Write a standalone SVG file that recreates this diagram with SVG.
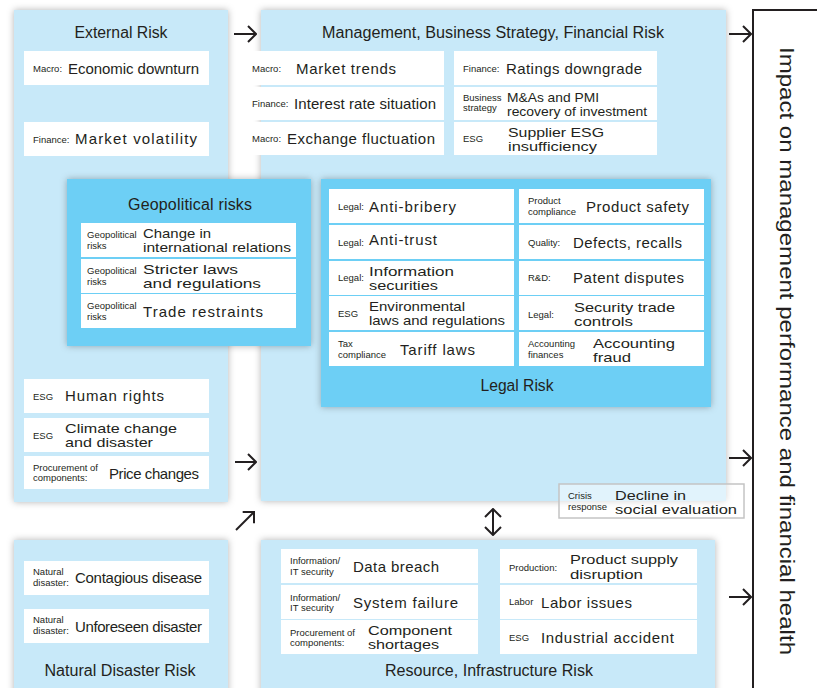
<svg xmlns="http://www.w3.org/2000/svg" width="817" height="688" viewBox="0 0 817 688">
<defs>
<filter id="sh" x="-10%" y="-10%" width="120%" height="120%">
<feDropShadow dx="0" dy="0" stdDeviation="3.5" flood-color="#000" flood-opacity="0.3"/>
</filter>
<marker id="ah" viewBox="0 0 10 18" refX="9" refY="9" markerWidth="10" markerHeight="18" markerUnits="userSpaceOnUse" orient="auto-start-reverse">
<path d="M1,1 L9,9 L1,17" fill="none" stroke="#231f20" stroke-width="2"/>
</marker>
<style>
.pnl{fill:#c8e9f9;filter:url(#sh)}
.sub{fill:#6dcff5;filter:url(#sh)}
.box{fill:#ffffff}
text{font-family:"Liberation Sans",Arial,Helvetica,sans-serif;fill:#231f20}
.s{font-size:9.5px}
.m{font-size:15px}
.m2{font-size:13.5px}
.h{font-size:16px}
.ar{fill:none;stroke:#231f20;stroke-width:2;marker-end:url(#ah)}
</style>
</defs>
<rect width="817" height="688" fill="#ffffff"/>

<g id="external-risk">
<rect class="pnl" x="14" y="10" width="214" height="492"/>
<text class="h" x="121" y="38" text-anchor="middle" textLength="93" lengthAdjust="spacingAndGlyphs">External Risk</text>
<rect class="box" x="24" y="51" width="185" height="34"/>
<text class="s" x="33" y="72">Macro:</text><text class="m" x="68" y="74" textLength="131">Economic downturn</text>
<rect class="box" x="24" y="122" width="185" height="34"/>
<text class="s" x="33" y="143">Finance:</text><text class="m" x="75" y="144" textLength="122">Market volatility</text>
<rect class="box" x="24" y="379" width="185" height="34"/>
<text class="s" x="33" y="400">ESG</text><text class="m" x="65" y="401" textLength="99">Human rights</text>
<rect class="box" x="24" y="418" width="185" height="34"/>
<text class="s" x="33" y="439">ESG</text><text class="m2" x="65" y="433" textLength="112" lengthAdjust="spacingAndGlyphs">Climate change</text><text class="m2" x="65" y="447" textLength="88" lengthAdjust="spacingAndGlyphs">and disaster</text>
<rect class="box" x="24" y="456" width="185" height="33"/>
<text class="s" x="33" y="471">Procurement of</text><text class="s" x="33" y="481">components:</text><text class="m" x="109" y="479" textLength="90">Price changes</text>
</g>

<g id="management-risk">
<rect class="pnl" x="261" y="10" width="465" height="491"/>
<text class="h" x="493" y="38" text-anchor="middle" textLength="342" lengthAdjust="spacingAndGlyphs">Management, Business Strategy, Financial Risk</text>
<rect class="box" x="246" y="51" width="198" height="34"/>
<rect class="box" x="246" y="87" width="198" height="33"/>
<rect class="box" x="246" y="122" width="198" height="33"/>
<text class="s" x="252" y="72">Macro:</text><text class="m" x="296" y="74" textLength="100">Market trends</text>
<text class="s" x="252" y="107">Finance:</text><text class="m" x="294" y="109" textLength="142">Interest rate situation</text>
<text class="s" x="252" y="142">Macro:</text><text class="m" x="287" y="144" textLength="148">Exchange fluctuation</text>
<rect class="box" x="454" y="51" width="203" height="34"/>
<rect class="box" x="454" y="87" width="203" height="33"/>
<rect class="box" x="454" y="122" width="203" height="33"/>
<text class="s" x="463" y="72">Finance:</text><text class="m" x="506" y="74" textLength="136">Ratings downgrade</text>
<text class="s" x="463" y="101" font-size="9">Business</text><text class="s" x="463" y="111" font-size="9">strategy</text>
<text class="m2" x="507" y="102" textLength="92" lengthAdjust="spacingAndGlyphs">M&amp;As and PMI</text><text class="m2" x="507" y="116" textLength="140" lengthAdjust="spacingAndGlyphs">recovery of investment</text>
<text class="s" x="463" y="142">ESG</text>
<text class="m2" x="508" y="137" textLength="96" lengthAdjust="spacingAndGlyphs">Supplier ESG</text><text class="m2" x="508" y="151" textLength="89" lengthAdjust="spacingAndGlyphs">insufficiency</text>
</g>

<g id="natural-disaster-risk">
<rect class="pnl" x="14" y="540" width="214" height="160"/>
<rect class="box" x="24" y="561" width="185" height="34"/>
<text class="s" x="33" y="575">Natural</text><text class="s" x="33" y="586">disaster:</text><text class="m" x="75" y="583" textLength="127">Contagious disease</text>
<rect class="box" x="24" y="609" width="185" height="34"/>
<text class="s" x="33" y="623">Natural</text><text class="s" x="33" y="634">disaster:</text><text class="m" x="75" y="632" textLength="127">Unforeseen disaster</text>
<text class="h" x="120" y="676" text-anchor="middle" textLength="151" lengthAdjust="spacingAndGlyphs">Natural Disaster Risk</text>
</g>

<g id="resource-risk">
<rect class="pnl" x="261" y="540" width="454" height="160"/>
<rect class="box" x="281" y="549" width="197" height="34"/>
<rect class="box" x="281" y="585" width="197" height="34"/>
<rect class="box" x="281" y="620" width="197" height="34"/>
<text class="s" x="290" y="564">Information/</text><text class="s" x="290" y="575">IT security</text><text class="m" x="353" y="572" textLength="86">Data breach</text>
<text class="s" x="290" y="601">Information/</text><text class="s" x="290" y="611">IT security</text><text class="m" x="353" y="608" textLength="105">System failure</text>
<text class="s" x="290" y="636">Procurement of</text><text class="s" x="290" y="646">components:</text><text class="m2" x="368" y="635" textLength="84" lengthAdjust="spacingAndGlyphs">Component</text><text class="m2" x="368" y="649" textLength="71" lengthAdjust="spacingAndGlyphs">shortages</text>
<rect class="box" x="500" y="549" width="197" height="34"/>
<rect class="box" x="500" y="585" width="197" height="34"/>
<rect class="box" x="500" y="620" width="197" height="34"/>
<text class="s" x="509" y="571">Production:</text><text class="m2" x="570" y="564" textLength="108" lengthAdjust="spacingAndGlyphs">Product supply</text><text class="m2" x="570" y="579" textLength="73" lengthAdjust="spacingAndGlyphs">disruption</text>
<text class="s" x="509" y="605">Labor</text><text class="m" x="541" y="608" textLength="91">Labor issues</text>
<text class="s" x="509" y="641">ESG</text><text class="m" x="541" y="643" textLength="133">Industrial accident</text>
<text class="h" x="489" y="676" text-anchor="middle" textLength="208" lengthAdjust="spacingAndGlyphs">Resource, Infrastructure Risk</text>
</g>

<g id="geopolitical-risks">
<rect class="sub" x="67" y="179" width="244" height="167"/>
<text class="h" x="190" y="210" text-anchor="middle" textLength="124">Geopolitical risks</text>
<rect class="box" x="81" y="223" width="215" height="34"/>
<rect class="box" x="81" y="259" width="215" height="34"/>
<rect class="box" x="81" y="294" width="215" height="34"/>
<text class="s" x="87" y="238">Geopolitical</text><text class="s" x="87" y="249">risks</text>
<text class="m2" x="143" y="238" textLength="68" lengthAdjust="spacingAndGlyphs">Change in</text><text class="m2" x="143" y="252" textLength="148" lengthAdjust="spacingAndGlyphs">international relations</text>
<text class="s" x="87" y="274">Geopolitical</text><text class="s" x="87" y="285">risks</text>
<text class="m2" x="143" y="274" textLength="95" lengthAdjust="spacingAndGlyphs">Stricter laws</text><text class="m2" x="143" y="288" textLength="118" lengthAdjust="spacingAndGlyphs">and regulations</text>
<text class="s" x="87" y="309">Geopolitical</text><text class="s" x="87" y="320">risks</text>
<text class="m" x="143" y="317" textLength="120">Trade restraints</text>
</g>

<g id="legal-risk">
<rect class="sub" x="321" y="179" width="390" height="228"/>
<rect class="box" x="329" y="189" width="185" height="34"/>
<rect class="box" x="329" y="225" width="185" height="34"/>
<rect class="box" x="329" y="261" width="185" height="34"/>
<rect class="box" x="329" y="296" width="185" height="34"/>
<rect class="box" x="329" y="332" width="185" height="34"/>
<rect class="box" x="519" y="189" width="185" height="34"/>
<rect class="box" x="519" y="225" width="185" height="34"/>
<rect class="box" x="519" y="261" width="185" height="34"/>
<rect class="box" x="519" y="296" width="185" height="34"/>
<rect class="box" x="519" y="332" width="185" height="34"/>
<text class="s" x="338" y="210">Legal:</text><text class="m" x="369" y="212" textLength="87">Anti-bribery</text>
<text class="s" x="338" y="246">Legal:</text><text class="m" x="369" y="245" textLength="68">Anti-trust</text>
<text class="s" x="338" y="281">Legal:</text><text class="m2" x="369" y="276" textLength="85" lengthAdjust="spacingAndGlyphs">Information</text><text class="m2" x="369" y="290" textLength="69" lengthAdjust="spacingAndGlyphs">securities</text>
<text class="s" x="338" y="317">ESG</text><text class="m2" x="369" y="311" textLength="96" lengthAdjust="spacingAndGlyphs">Environmental</text><text class="m2" x="369" y="325" textLength="136" lengthAdjust="spacingAndGlyphs">laws and regulations</text>
<text class="s" x="338" y="347">Tax</text><text class="s" x="338" y="358">compliance</text><text class="m" x="400" y="355" textLength="75">Tariff laws</text>
<text class="s" x="528" y="204">Product</text><text class="s" x="528" y="215">compliance</text><text class="m" x="586" y="212" textLength="103">Product safety</text>
<text class="s" x="528" y="246">Quality:</text><text class="m" x="573" y="248" textLength="109">Defects, recalls</text>
<text class="s" x="528" y="281">R&amp;D:</text><text class="m" x="573" y="283" textLength="111">Patent disputes</text>
<text class="s" x="528" y="318">Legal:</text><text class="m2" x="574" y="312" textLength="101" lengthAdjust="spacingAndGlyphs">Security trade</text><text class="m2" x="574" y="326" textLength="59" lengthAdjust="spacingAndGlyphs">controls</text>
<text class="s" x="528" y="347">Accounting</text><text class="s" x="528" y="358">finances</text><text class="m2" x="593" y="348" textLength="82" lengthAdjust="spacingAndGlyphs">Accounting</text><text class="m2" x="593" y="362" textLength="38" lengthAdjust="spacingAndGlyphs">fraud</text>
<text class="h" x="517" y="391" text-anchor="middle" textLength="73" lengthAdjust="spacingAndGlyphs">Legal Risk</text>
</g>

<g id="decline-social-evaluation">
<rect x="559" y="484" width="185" height="34" fill="#ffffff" fill-opacity="0.45" stroke="#c4c4c4" stroke-width="1.5"/>
<text class="s" x="568" y="499">Crisis</text><text class="s" x="568" y="510">response</text>
<text class="m2" x="615" y="500" textLength="71" lengthAdjust="spacingAndGlyphs">Decline in</text><text class="m2" x="615" y="514" textLength="122" lengthAdjust="spacingAndGlyphs">social evaluation</text>
</g>

<g id="impact">
<rect x="753" y="10" width="120" height="700" fill="#ffffff" stroke="#231f20" stroke-width="2"/>
<text x="787" y="351" font-size="20" text-anchor="middle" dominant-baseline="central" transform="rotate(90 787 351)" textLength="608" lengthAdjust="spacingAndGlyphs">Impact on management performance and financial health</text>
</g>

<g id="connectors">
<path class="ar" d="M234,34 H256"/>
<path class="ar" d="M729,34 H751"/>
<path class="ar" d="M235,462 H256"/>
<path class="ar" d="M729,458 H751"/>
<path class="ar" d="M729,597 H751"/>
<path class="ar" d="M236,530 L254,512"/>
<path class="ar" d="M493,509 V535" marker-start="url(#ah)"/>
</g>
</svg>
